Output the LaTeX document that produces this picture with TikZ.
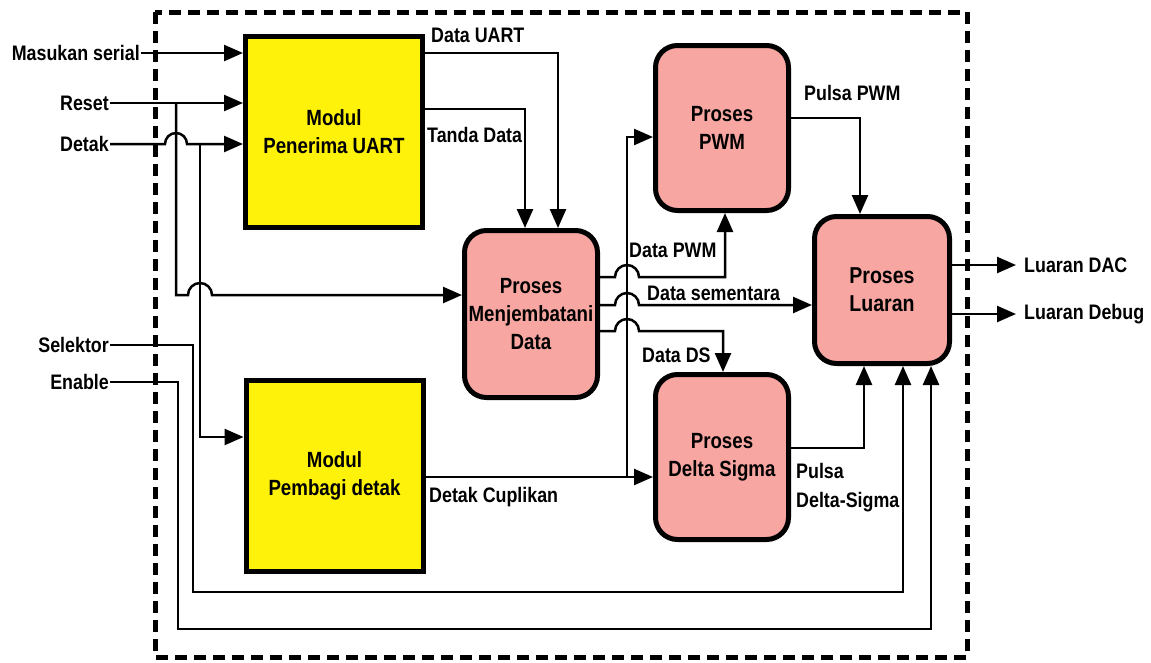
\documentclass[tikz,border=0pt]{standalone}
\usepackage{fontspec}
\setmainfont{Liberation Sans}[FakeStretch=0.85]
\usetikzlibrary{calc}
\usetikzlibrary{arrows.meta}
\definecolor{kuning}{HTML}{FFF20A}
\definecolor{merahmuda}{HTML}{F7A6A2}
\tikzset{
  modul/.style={draw, line width=5pt, fill=kuning, minimum width=177pt, minimum height=191pt,
    align=center, font=\fontsize{22}{28}\selectfont\bfseries},
  proses/.style={draw, line width=5pt, fill=merahmuda, rounded corners=22pt, minimum width=133pt,
    minimum height=165pt, align=center, font=\fontsize{22}{28}\selectfont\bfseries},
  jalur/.style={line width=2.5pt},
  panah/.style={jalur, -{Triangle[length=19pt,width=16pt]}},
  teks/.style={font=\fontsize{21}{29}\selectfont\bfseries, inner sep=1pt},
}
\begin{document}
\begin{tikzpicture}[x=1pt,y=-1pt]
  \useasboundingbox (0,0) rectangle (1151,662);
  % batas sistem
  \draw[line width=5pt, dash pattern=on 12pt off 7pt] (155,12) rectangle (967,657);
  % blok
  \node[modul] (uart) at (334,132) {Modul\\Penerima UART};
  \node[modul] (pembagi) at (334.5,476) {Modul\\Pembagi detak};
  \node[proses, minimum height=167pt] (jembatan) at (531,314) {Proses\\Menjembatani\\Data};
  \node[proses] (pwm) at (722,128) {Proses\\PWM};
  \node[proses] (ds) at (722,457) {Proses\\Delta Sigma};
  \node[proses, minimum width=135pt, minimum height=147pt, font=\fontsize{23}{28}\selectfont\bfseries] (luaran) at (882,290) {Proses\\Luaran};
  % masukan dan luaran
  \node[teks, anchor=east] (masukan) at (141,53) {Masukan serial};
  \node[teks, anchor=east] (reset) at (110,103) {Reset};
  \node[teks, anchor=east] (detak) at (110,144) {Detak};
  \node[teks, anchor=east] (selektor) at (110,345) {Selektor};
  \node[teks, anchor=east] (enable) at (110,382) {Enable};
  \node[teks, anchor=west] (dac) at (1023,265) {Luaran DAC};
  \node[teks, anchor=west] (debug) at (1023,314) {Luaran Debug};
  % label jalur
  \node[teks, anchor=west] (ldatauart) at (430,35) {Data UART};
  \node[teks, anchor=west] (ltanda) at (426,135) {Tanda Data};
  \node[teks, anchor=west] (lcuplik) at (428,497) {Detak Cuplikan};
  \node[teks, anchor=west] (ldatapwm) at (628,250) {Data PWM};
  \node[teks, anchor=west] (lsementara) at (646,293) {Data sementara};
  \node[teks, anchor=west] (ldatads) at (641,355) {Data DS};
  \node[teks, anchor=west] (lpulsapwm) at (803,93) {Pulsa PWM};
  \node[teks, anchor=west, align=left] (lpulsads) at (795,488) {Pulsa\\Delta-Sigma};
  % titik cabang
  \coordinate (resetcab) at (176,103);
  \coordinate (detakcab) at (200,144);
  \coordinate (jembmasuk) at (jembatan.west |- 0,295);
  \coordinate (cabcuplik) at (627,477);
  % jalur masukan
  \draw[panah] (masukan.east) -- (uart.west |- masukan.east);
  \draw[panah] (reset.east) -- (uart.west |- reset.east);
  \draw[panah] (detak.east) -- ($(resetcab |- detak.east)+(-11,0)$) arc[start angle=180, end angle=0, radius=11pt] -- (uart.west |- detak.east);
  \draw[panah] (resetcab) -- (resetcab |- jembmasuk) -- ($(detakcab |- jembmasuk)+(-12,0)$) arc[start angle=180, end angle=0, radius=12pt] -- (jembmasuk);
  \draw[panah] (detakcab) |- (pembagi.west |- 0,437);
  \draw[panah] (selektor.east) -| (193,592) -| ($(luaran.south)+(21,0)$);
  \draw[panah] (enable.east) -| (178,629) -| ($(luaran.south)+(49,0)$);
  % jalur antar blok
  \draw[panah] (uart.east |- 0,53) -| ($(jembatan.north)+(27,0)$);
  \draw[panah] (uart.east |- 0,109) -| ($(jembatan.north)+(-6,0)$);
  \draw[panah] (pembagi.east |- cabcuplik) -- (ds.west |- cabcuplik);
  \draw[panah] (cabcuplik) |- (pwm.west |- 0,137);
  \draw[panah] (jembatan.east |- 0,277) -- ($(cabcuplik |- 0,277)+(-12,0)$) arc[start angle=180, end angle=0, radius=12pt] -| ($(pwm.south)+(3,0)$);
  \draw[panah] (jembatan.east |- 0,305) -- ($(cabcuplik |- 0,305)+(-12,0)$) arc[start angle=180, end angle=0, radius=12pt] -- (luaran.west |- 0,305);
  \draw[panah] (jembatan.east |- 0,331) -- ($(cabcuplik |- 0,331)+(-12,0)$) arc[start angle=180, end angle=0, radius=12pt] -| ($(ds.north)+(1,0)$);
  \draw[panah] (pwm.east |- 0,118) -| ($(luaran.north)+(-22,0)$);
  \draw[panah] (ds.east |- 0,448) -| ($(luaran.south)+(-18,0)$);
  \draw[panah, shorten >=7pt] (luaran.east |- dac.west) -- (dac.west);
  \draw[panah, shorten >=7pt] (luaran.east |- debug.west) -- (debug.west);
\end{tikzpicture}
\end{document}
